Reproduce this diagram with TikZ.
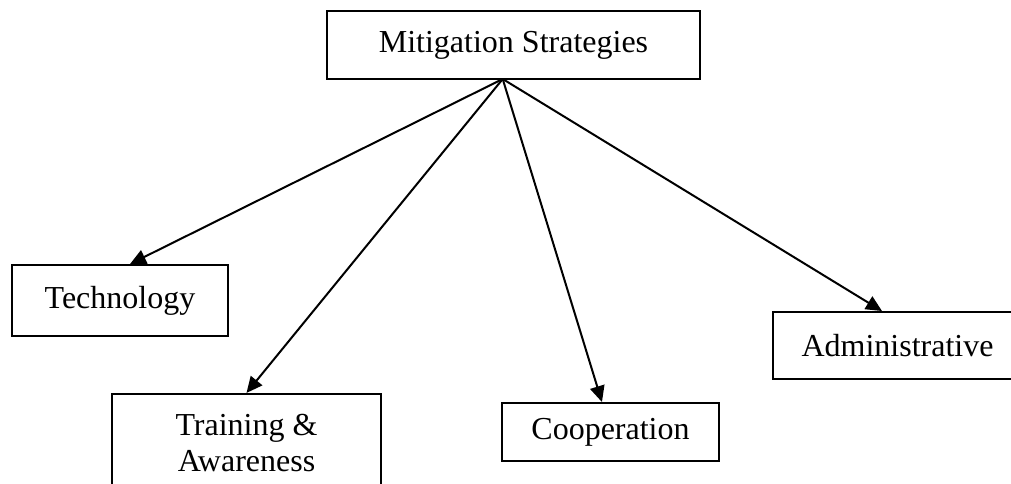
\documentclass[tikz,border=0pt]{standalone}
\usepackage{fontspec}
\setmainfont{Liberation Serif}
\usetikzlibrary{arrows.meta}

\begin{document}
\begin{tikzpicture}[x=0.375pt,y=0.375pt,yscale=-1,xscale=1,
    box/.style={draw, line width=0.75pt, inner sep=0pt, font=\fontsize{12}{13.2}\selectfont, align=center},
    link/.style={line width=0.75pt, -{Triangle[length=6pt,width=5.5pt]}}]
                \useasboundingbox (0,0) rectangle (1011,483);
                \clip (0,0) rectangle (1011,483);
                %Shape: Rectangle [id:ms]
                \node [box, minimum width=139.9pt, minimum height=25.5pt] (ms) at (513.5,45) {Mitigation Strategies};
                %Shape: Rectangle [id:tech]
                \node [box, minimum width=81pt, minimum height=26.6pt] (tech) at (120,300.5) {Technology};
                %Shape: Rectangle [id:train]
                \node [box, minimum width=100.9pt, minimum height=36.8pt] (train) at (246.5,443) {Training \&\\Awareness};
                %Shape: Rectangle [id:coop]
                \node [box, minimum width=81.4pt, minimum height=21.75pt] (coop) at (610.5,432) {Cooperation};
                %Shape: Rectangle [id:admin]
                \node [box, minimum width=93.4pt, minimum height=25.1pt] (admin) at (897.5,345.5) {Administrative};
                %Point [id:hub]
                \coordinate (hub) at (502.7,79);
                %Straight Lines
                \draw [link] (hub) -- ([xshift=3.75pt]tech.north);
                \draw [link] (hub) -- (train.north);
                \draw [link] (hub) -- ([xshift=-3.2pt]coop.north);
                \draw [link] (hub) -- ([xshift=-5.8pt]admin.north);
\end{tikzpicture}
\end{document}
